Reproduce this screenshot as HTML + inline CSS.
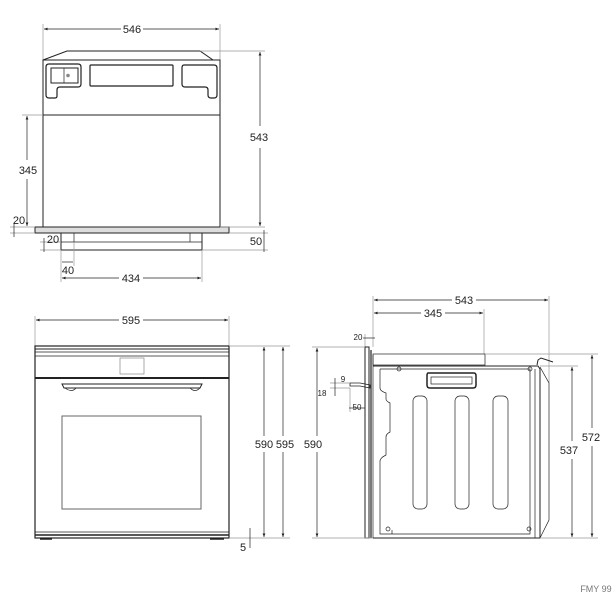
<!DOCTYPE html>
<html><head><style>
body{margin:0;background:#fff;}
svg{display:block;font-family:"Liberation Sans",sans-serif;}
text{font-size:11px;fill:#222;}
</style></head><body>
<svg width="614" height="600" viewBox="0 0 614 600" xmlns="http://www.w3.org/2000/svg">
<defs>
<marker id="a" markerWidth="6" markerHeight="6" refX="5" refY="3" orient="auto-start-reverse"><path d="M0,1 L5,3 L0,5z" fill="#222"/></marker>
</defs>
<g stroke="#222" fill="none" stroke-width="0.7">
<line x1="43" y1="24" x2="43" y2="60" stroke="#999"/><line x1="220" y1="24" x2="220" y2="60" stroke="#999"/>
<line x1="44" y1="29" x2="121" y2="29" marker-start="url(#a)"/><line x1="143" y1="29" x2="219" y2="29" marker-end="url(#a)"/>
<path d="M43,60 L67,51 L200,51 L213,60 Z" stroke-width="1"/>
<rect x="43" y="60" width="177" height="167" stroke-width="1"/>
<line x1="43" y1="115" x2="220" y2="115" stroke-width="1"/>
<path d="M49,64 H78 Q81,64 81,67 V84 Q81,87 78,87 H60 Q57,87 57,90 V96 Q57,98 55,98 H49 Q46,98 46,95 V67 Q46,64 49,64Z" stroke-width="1.2"/>
<rect x="51" y="68" width="27" height="15" stroke-width="1"/><line x1="64" y1="68" x2="64" y2="83"/>
<circle cx="68" cy="75.5" r="1.8" fill="#888" stroke="none"/>
<rect x="90" y="65" width="83" height="21" rx="1" stroke-width="1.2"/>
<path d="M184,65 H214 Q217,65 217,68 V95 Q217,98 214,98 H211 Q208,98 208,95 V90 Q208,87 205,87 H185 Q182,87 182,84 V68 Q182,65 184,65Z" stroke-width="1.2"/>
<rect x="35" y="227" width="194" height="6" fill="#ddd" stroke-width="1"/>
<rect x="61" y="233" width="141" height="17" stroke-width="1"/>
<line x1="61" y1="242" x2="202" y2="242"/><line x1="74" y1="233" x2="74" y2="242"/><line x1="190" y1="233" x2="190" y2="242"/>
<line x1="200" y1="51" x2="265" y2="51" stroke="#999"/><line x1="220" y1="227" x2="265" y2="227" stroke="#999"/>
<line x1="260" y1="52" x2="260" y2="126" marker-start="url(#a)"/><line x1="260" y1="148" x2="260" y2="226" marker-end="url(#a)"/>
<line x1="22" y1="115" x2="43" y2="115" stroke="#999"/>
<line x1="27" y1="116" x2="27" y2="160" marker-start="url(#a)"/><line x1="27" y1="179" x2="27" y2="226" marker-end="url(#a)"/>
<line x1="10" y1="227" x2="35" y2="227" stroke="#999"/><line x1="10" y1="233" x2="35" y2="233" stroke="#999"/>
<line x1="14" y1="223" x2="14" y2="237"/>
<line x1="229" y1="233" x2="268" y2="233" stroke="#999"/><line x1="202" y1="250" x2="268" y2="250" stroke="#999"/>
<line x1="264" y1="230" x2="264" y2="252"/>
<line x1="40" y1="242" x2="61" y2="242" stroke="#999"/><line x1="40" y1="250" x2="61" y2="250" stroke="#999"/><line x1="44" y1="238" x2="44" y2="252"/>
<line x1="61" y1="250" x2="61" y2="282" stroke="#999"/><line x1="74" y1="242" x2="74" y2="266" stroke="#999"/><line x1="202" y1="250" x2="202" y2="282" stroke="#999"/>
<line x1="62" y1="262" x2="73" y2="262"/>
<line x1="62" y1="278" x2="119" y2="278" marker-start="url(#a)"/><line x1="143" y1="278" x2="201" y2="278" marker-end="url(#a)"/>
<line x1="35" y1="316" x2="35" y2="346" stroke="#999"/><line x1="229" y1="316" x2="229" y2="346" stroke="#999"/>
<line x1="36" y1="320" x2="119" y2="320" marker-start="url(#a)"/><line x1="143" y1="320" x2="228" y2="320" marker-end="url(#a)"/>
<rect x="35" y="346" width="194" height="192" stroke-width="1.2"/>
<line x1="35" y1="349" x2="229" y2="349" stroke-width="1"/><line x1="35" y1="352" x2="229" y2="352"/><line x1="35" y1="356" x2="229" y2="356"/>
<line x1="35" y1="378" x2="229" y2="378" stroke-width="2"/>
<rect x="120" y="358" width="24" height="16" stroke="#888"/>
<path d="M62,384 H202 L200,388 H64 Z" stroke-width="1"/>
<path d="M65,388 Q72,393 76,388 M190,388 Q195,393 200,388"/>
<rect x="62" y="416" width="139" height="93" stroke="#666" stroke-width="1"/>
<line x1="35" y1="532" x2="229" y2="532"/><line x1="35" y1="535" x2="229" y2="535" stroke-width="1.5"/>
<line x1="40" y1="539" x2="52" y2="539" stroke-width="1.5"/><line x1="210" y1="539" x2="224" y2="539" stroke-width="1.5"/>
<line x1="229" y1="346" x2="290" y2="346" stroke="#999"/><line x1="229" y1="538" x2="290" y2="538" stroke="#999"/>
<line x1="264" y1="347" x2="264" y2="436" marker-start="url(#a)"/><line x1="264" y1="452" x2="264" y2="537" marker-end="url(#a)"/>
<line x1="283" y1="347" x2="283" y2="436" marker-start="url(#a)"/><line x1="283" y1="452" x2="283" y2="537" marker-end="url(#a)"/>
<line x1="250" y1="528" x2="250" y2="548"/>
<line x1="373" y1="296" x2="373" y2="347" stroke="#999"/><line x1="549" y1="296" x2="549" y2="383" stroke="#999"/><line x1="484" y1="309" x2="484" y2="354" stroke="#999"/>
<line x1="374" y1="300" x2="452" y2="300" marker-start="url(#a)"/><line x1="476" y1="300" x2="548" y2="300" marker-end="url(#a)"/>
<line x1="374" y1="313" x2="421" y2="313" marker-start="url(#a)"/><line x1="445" y1="313" x2="483" y2="313" marker-end="url(#a)"/>
<line x1="365" y1="334" x2="365" y2="347" stroke="#999"/><line x1="363" y1="338" x2="375" y2="338"/>
<rect x="365" y="347" width="4" height="191" stroke-width="1"/><line x1="371" y1="350" x2="371" y2="538" stroke-width="1.2"/>
<line x1="373" y1="355" x2="373" y2="538"/>
<rect x="373" y="354" width="112" height="11"/>
<path d="M373,366 H538 L540,369 V538 H373" stroke-width="1"/>
<line x1="535" y1="369" x2="535" y2="538"/>
<path d="M540,367 L549,383 V520 L540,538" />
<path d="M537,365 L538,360 L541,358 L553,362" stroke-width="1"/>
<path d="M380,369 H530 V534 H392 V530 M380,369 V388 Q380,391 386,393 V399 Q386,401 390,403 V432 Q386,434 386,437 V455 Q380,458 380,461 V534 H392"/>
<path d="M428,373 H474 Q476,373 476,376 V385 Q476,388 473,388 H430 Q427,388 427,385 V376 Q427,373 428,373Z" stroke-width="1.5"/>
<rect x="431" y="377" width="41" height="7"/>
<rect x="413" y="396" width="14" height="113" rx="5"/><rect x="455" y="396" width="14" height="113" rx="5"/><rect x="493" y="396" width="15" height="113" rx="5"/>
<circle cx="399" cy="369" r="2"/><circle cx="530" cy="369" r="2"/><circle cx="388" cy="529" r="2"/><circle cx="529" cy="529" r="2"/>
<path d="M350,383 H360 L370,385 V388 L360,386 H350 Z" stroke-width="0.8"/>
<line x1="330" y1="383" x2="350" y2="383" stroke="#999"/><line x1="330" y1="388" x2="350" y2="388" stroke="#999"/>
<line x1="335" y1="378" x2="335" y2="396"/>
<line x1="350" y1="388" x2="350" y2="412" stroke="#999"/><line x1="349" y1="408" x2="365" y2="408"/>
<line x1="312" y1="347" x2="365" y2="347" stroke="#999"/><line x1="312" y1="538" x2="373" y2="538" stroke="#999"/>
<line x1="317" y1="348" x2="317" y2="436" marker-start="url(#a)"/><line x1="317" y1="452" x2="317" y2="537" marker-end="url(#a)"/>
<line x1="540" y1="366" x2="578" y2="366" stroke="#999"/><line x1="485" y1="354" x2="598" y2="354" stroke="#999"/><line x1="540" y1="538" x2="598" y2="538" stroke="#999"/>
<line x1="572" y1="367" x2="572" y2="441" marker-start="url(#a)"/><line x1="572" y1="459" x2="572" y2="537" marker-end="url(#a)"/>
<line x1="592" y1="355" x2="592" y2="428" marker-start="url(#a)"/><line x1="592" y1="446" x2="592" y2="537" marker-end="url(#a)"/>
</g>
<g>
<text x="132" y="33" text-anchor="middle">546</text>
<text x="259" y="141" text-anchor="middle">543</text>
<text x="28" y="174" text-anchor="middle">345</text>
<text x="19" y="224" text-anchor="middle">20</text>
<text x="256" y="245" text-anchor="middle">50</text>
<text x="53" y="243" text-anchor="middle">20</text>
<text x="68" y="274" text-anchor="middle">40</text>
<text x="131" y="282" text-anchor="middle">434</text>
<text x="131" y="324" text-anchor="middle">595</text>
<text x="264" y="448" text-anchor="middle">590</text>
<text x="285" y="448" text-anchor="middle">595</text>
<text x="243" y="551" text-anchor="middle">5</text>
<text x="464" y="304" text-anchor="middle">543</text>
<text x="433" y="317" text-anchor="middle">345</text>
<text x="358" y="340" text-anchor="middle" style="font-size:8px">20</text>
<text x="343" y="382" text-anchor="middle" style="font-size:8px">9</text>
<text x="322" y="396" text-anchor="middle" style="font-size:8px">18</text>
<text x="357" y="410" text-anchor="middle" style="font-size:8px">50</text>
<text x="313" y="448" text-anchor="middle">590</text>
<text x="569" y="454" text-anchor="middle">537</text>
<text x="591" y="441" text-anchor="middle">572</text>
<text x="596" y="592" text-anchor="middle" style="font-size:9px;fill:#777">FMY 99</text>
</g>
</svg>
</body></html>
